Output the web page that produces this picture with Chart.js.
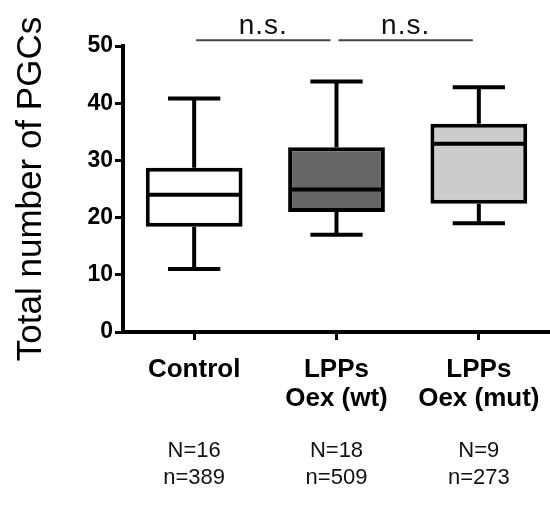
<!DOCTYPE html>
<html lang="en">
<head>
  <meta charset="UTF-8" />
  <title>Total number of PGCs</title>
  <style>
    body {
      margin: 0;
      padding: 0;
      background: #fff;
    }
    canvas {
      display: block;
    }
  </style>
</head>
<body>
  <canvas id="pgcChart" width="550" height="508"></canvas>

  <script src="https://cdn.jsdelivr.net/npm/chart.js"></script>
  <script>
    // groups and box plot summary values
    const categories = [['Control'], ['LPPs', 'Oex (wt)'], ['LPPs', 'Oex (mut)']];
    const mins    = [11, 17, 19];
    const q1s     = [18.4, 21, 22.4];
    const medians = [24, 24.9, 32.9];
    const q3s     = [28.7, 32.3, 36.4];
    const maxs    = [40.8, 43.8, 42.8];
    const fills   = ['#ffffff', '#666666', '#cccccc'];
    const bigN    = ['N=16', 'N=18', 'N=9'];
    const smallN  = ['n=389', 'n=509', 'n=273'];
    const comparisons = [[0, 1, 'n.s.'], [1, 2, 'n.s.']];
    const sigLevel = 51; // y value where the bracket lines sit

    Chart.defaults.font.family = "'Liberation Sans', Arial, sans-serif";
    Chart.defaults.color = '#000';

    // whiskers, medians, significance bars and sample sizes
    const boxExtras = {
      id: 'boxExtras',
      afterDatasetsDraw(chart) {
        const ctx = chart.ctx;
        const y = chart.scales.y;
        const bars = chart.getDatasetMeta(0).data;
        ctx.save();
        ctx.strokeStyle = '#000';
        ctx.lineWidth = 4;
        bars.forEach((bar, i) => {
          const cx = bar.x;
          const half = bar.width / 2;
          const cap = bar.width * 0.27;
          ctx.beginPath();
          // upper whisker
          ctx.moveTo(cx, y.getPixelForValue(q3s[i]));
          ctx.lineTo(cx, y.getPixelForValue(maxs[i]));
          ctx.moveTo(cx - cap, y.getPixelForValue(maxs[i]));
          ctx.lineTo(cx + cap, y.getPixelForValue(maxs[i]));
          // lower whisker
          ctx.moveTo(cx, y.getPixelForValue(q1s[i]));
          ctx.lineTo(cx, y.getPixelForValue(mins[i]));
          ctx.moveTo(cx - cap, y.getPixelForValue(mins[i]));
          ctx.lineTo(cx + cap, y.getPixelForValue(mins[i]));
          // median
          ctx.moveTo(cx - half + 2, y.getPixelForValue(medians[i]));
          ctx.lineTo(cx + half - 2, y.getPixelForValue(medians[i]));
          ctx.stroke();
        });
        ctx.restore();
      },
      afterDraw(chart) {
        const ctx = chart.ctx;
        const y = chart.scales.y;
        const x = chart.scales.x;
        ctx.save();
        // significance brackets
        const ly = y.getPixelForValue(sigLevel);
        comparisons.forEach(([a, b, txt]) => {
          const x1 = x.getPixelForValue(a) + 2;
          const x2 = x.getPixelForValue(b) - 6;
          ctx.strokeStyle = '#444';
          ctx.lineWidth = 2;
          ctx.beginPath();
          ctx.moveTo(x1, ly);
          ctx.lineTo(x2, ly);
          ctx.stroke();
          ctx.fillStyle = '#111';
          ctx.font = "28px 'Liberation Sans', Arial, sans-serif";
          ctx.letterSpacing = '1px';
          ctx.textAlign = 'center';
          ctx.textBaseline = 'alphabetic';
          ctx.fillText(txt, (x1 + x2) / 2, ly - 6);
        });
        // sample sizes under the group labels
        ctx.letterSpacing = '0px';
        ctx.fillStyle = '#111';
        ctx.font = "22px 'Liberation Sans', Arial, sans-serif";
        ctx.textAlign = 'center';
        ctx.textBaseline = 'middle';
        categories.forEach((c, i) => {
          const px = x.getPixelForValue(i);
          ctx.fillText(bigN[i], px, 451);
          ctx.fillText(smallN[i], px, 478);
        });
        ctx.restore();
      }
    };

    const ctx = document.getElementById('pgcChart').getContext('2d');
    new Chart(ctx, {
      type: 'bar',
      data: {
        labels: categories,
        datasets: [{
          data: q1s.map((v, i) => [v, q3s[i]]),
          backgroundColor: fills,
          borderColor: '#000',
          borderWidth: 4,
          borderSkipped: false,
          barPercentage: 0.68,
          categoryPercentage: 1
        }]
      },
      options: {
        responsive: false,
        animation: false,
        layout: {
          padding: { top: 46, right: 0, bottom: 0, left: 0 }
        },
        plugins: {
          legend: { display: false },
          tooltip: { enabled: false }
        },
        scales: {
          x: {
            grid: {
              offset: false,
              drawOnChartArea: false,
              tickLength: 8,
              tickWidth: 3,
              tickColor: '#000'
            },
            border: { width: 4, color: '#000' },
            ticks: {
              padding: 16,
              font: { size: 26, weight: 'bold', lineHeight: 1.1 },
              color: '#000',
              maxRotation: 0
            },
            afterFit(scale) {
              scale.height = 176;
              // axis runs to the right edge like the original
              scale.paddingLeft = 0;
              scale.paddingRight = 0;
            }
          },
          y: {
            min: 0,
            max: 50,
            ticks: {
              stepSize: 10,
              padding: 2,
              font: { size: 23, weight: 'bold' },
              color: '#000'
            },
            grid: {
              drawOnChartArea: false,
              tickLength: 8,
              tickWidth: 3,
              tickColor: '#000'
            },
            border: { width: 4, color: '#000' },
            title: {
              display: true,
              text: 'Total number of PGCs',
              font: { size: 35 },
              color: '#000',
              padding: { top: 10, bottom: 0 }
            },
            afterFit(scale) { scale.width = 123; }
          }
        }
      },
      plugins: [boxExtras]
    });
  </script>
</body>
</html>
